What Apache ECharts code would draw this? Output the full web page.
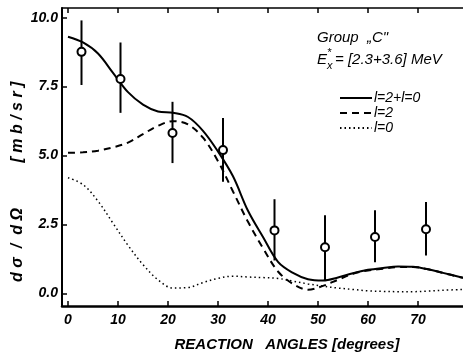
<!DOCTYPE html>
<html>
<head>
<meta charset="utf-8">
<script src="https://cdn.jsdelivr.net/npm/echarts@6/dist/echarts.min.js"></script>
<style>
  html, body { margin: 0; padding: 0; background: #fff; }
  #chart { width: 463px; height: 357px; }
</style>
</head>
<body>
<div id="chart"></div>
<script>
// experimental points (angle, value, error bar ends)
const expAngles = [2.7, 10.5, 20.9, 31.0, 41.3, 51.4, 61.4, 71.6];
const expValues = [8.76, 7.78, 5.82, 5.2, 2.29, 1.68, 2.05, 2.33];
const errLow = [7.56, 6.55, 4.73, 4.05, 1.2, 0.47, 1.14, 1.38];
const errHigh = [9.9, 9.1, 6.95, 6.36, 3.42, 2.84, 3.02, 3.32];

// calculated curves
const curveAngles = [0, 3, 6, 9, 12, 15, 18, 21, 24, 27, 30, 33, 36, 39, 42, 45, 48, 51, 54, 57, 60, 63, 66, 69, 72, 75, 79];
const sumCurve = [9.31, 9.1, 8.7, 8.0, 7.3, 6.85, 6.6, 6.55, 6.4, 5.9, 5.15, 4.25, 3.0, 2.05, 1.15, 0.75, 0.52, 0.47, 0.58, 0.74, 0.86, 0.93, 0.98, 0.97, 0.88, 0.75, 0.57];
const l2Curve = [5.1, 5.12, 5.18, 5.3, 5.47, 5.78, 6.08, 6.25, 6.13, 5.65, 4.8, 3.7, 2.6, 1.65, 0.8, 0.35, 0.14, 0.28, 0.5, 0.72, 0.84, 0.9, 0.96, 0.96, 0.88, 0.75, 0.57];
const l0Curve = [4.2, 3.95, 3.35, 2.55, 1.75, 1.05, 0.5, 0.2, 0.22, 0.4, 0.55, 0.63, 0.6, 0.58, 0.55, 0.45, 0.35, 0.27, 0.2, 0.15, 0.1, 0.08, 0.07, 0.07, 0.09, 0.12, 0.15];

const curveNames = ['l=2+l=0', 'l=2', 'l=0'];
const xTicks = [0, 10, 20, 30, 40, 50, 60, 70];
const yTicks = [0, 2.5, 5, 7.5, 10];

const font = 'Liberation Sans';
const pair = (ys) => curveAngles.map((a, i) => [a, ys[i]]);

const chart = echarts.init(document.getElementById('chart'));

const lineSeries = (name, ys, type, width) => ({
    name: name,
    type: 'line',
    data: pair(ys),
    smooth: 0.35,
    symbol: 'none',
    showSymbol: false,
    lineStyle: { color: '#000', width: width, type: type },
    itemStyle: { color: '#000' },
    z: 3
});

const option = {
    backgroundColor: '#fff',
    animation: false,
    grid: { left: 62, right: 0, top: 8, bottom: 51 },
    legend: {
        data: curveNames,
        orient: 'vertical',
        left: 334,
        top: 86,
        itemWidth: 32,
        itemHeight: 14,
        itemGap: 1,
        itemStyle: { opacity: 0 },
        textStyle: { fontFamily: font, fontStyle: 'italic', fontSize: 14, color: '#000', padding: [0, 0, 0, -3] }
    },
    xAxis: [
        {
            type: 'value',
            min: -1.2,
            max: 79,
            splitLine: { show: false },
            axisLine: { onZero: false, lineStyle: { color: '#000', width: 2.5 } },
            axisTick: { inside: true, length: 5, customValues: xTicks, lineStyle: { color: '#000', width: 1.5 } },
            axisLabel: {
                customValues: xTicks,
                margin: 7,
                fontFamily: font,
                fontStyle: 'italic',
                fontWeight: 'bold',
                fontSize: 14,
                color: '#000'
            }
        },
        {
            type: 'value',
            position: 'top',
            min: -1.2,
            max: 79,
            splitLine: { show: false },
            axisLine: { onZero: false, lineStyle: { color: '#000', width: 1.5 } },
            axisTick: { inside: true, length: 5, customValues: xTicks, lineStyle: { color: '#000', width: 1.5 } },
            axisLabel: { show: false }
        }
    ],
    yAxis: {
        type: 'value',
        min: -0.45,
        max: 10.35,
        splitLine: { show: false },
        axisLine: { show: true, onZero: false, lineStyle: { color: '#000', width: 2 } },
        axisTick: { show: true, inside: true, length: 5, customValues: yTicks, lineStyle: { color: '#000', width: 1.5 } },
        axisLabel: {
            customValues: yTicks,
            margin: 4,
            formatter: (v) => v.toFixed(1),
            fontFamily: font,
            fontStyle: 'italic',
            fontWeight: 'bold',
            fontSize: 14,
            color: '#000'
        }
    },
    graphic: [
        {
            type: 'text', x: 18, y: 245, rotation: Math.PI / 2,
            style: { text: 'd σ  /  d Ω', font: 'italic bold 16px "Liberation Sans"', fill: '#000', textAlign: 'center', textVerticalAlign: 'middle' }
        },
        {
            type: 'text', x: 18, y: 122, rotation: Math.PI / 2,
            style: { text: '[ m b / s r ]', font: 'italic bold 16px "Liberation Sans"', fill: '#000', textAlign: 'center', textVerticalAlign: 'middle' }
        },
        {
            type: 'text', x: 287, y: 345,
            style: { text: 'REACTION   ANGLES [degrees]', font: 'italic bold 15px "Liberation Sans"', fill: '#000', textAlign: 'center', textVerticalAlign: 'middle' }
        },
        {
            type: 'text', x: 317, y: 38,
            style: { text: 'Group  „C"', font: 'italic 15px "Liberation Sans"', fill: '#000', textVerticalAlign: 'middle' }
        },
        {
            type: 'text', x: 317, y: 60,
            style: { text: 'E', font: 'italic 15px "Liberation Sans"', fill: '#000', textVerticalAlign: 'middle' }
        },
        {
            type: 'text', x: 327, y: 53,
            style: { text: '*', font: 'italic 11px "Liberation Sans"', fill: '#000', textVerticalAlign: 'middle' }
        },
        {
            type: 'text', x: 327, y: 66,
            style: { text: 'x', font: 'italic 11px "Liberation Sans"', fill: '#000', textVerticalAlign: 'middle' }
        },
        {
            type: 'text', x: 335, y: 60,
            style: { text: '= [2.3+3.6] MeV', font: 'italic 15px "Liberation Sans"', fill: '#000', textVerticalAlign: 'middle' }
        }
    ],
    series: [
        lineSeries(curveNames[0], sumCurve, 'solid', 2),
        lineSeries(curveNames[1], l2Curve, [7, 5], 2),
        lineSeries(curveNames[2], l0Curve, [1.5, 3], 1.5),
        {
            name: 'errors',
            type: 'custom',
            data: expAngles.map((a, i) => [a, errLow[i], errHigh[i]]),
            encode: { x: 0, y: [1, 2] },
            renderItem: function (params, api) {
                const p1 = api.coord([api.value(0), api.value(1)]);
                const p2 = api.coord([api.value(0), api.value(2)]);
                return {
                    type: 'line',
                    shape: { x1: p1[0], y1: p1[1], x2: p2[0], y2: p2[1] },
                    style: { stroke: '#000', lineWidth: 2 }
                };
            },
            z: 4
        },
        {
            name: 'data',
            type: 'scatter',
            data: expAngles.map((a, i) => [a, expValues[i]]),
            symbol: 'circle',
            symbolSize: 8,
            itemStyle: { color: '#fff', borderColor: '#000', borderWidth: 2, opacity: 1 },
            z: 5
        }
    ]
};

chart.setOption(option);
</script>
</body>
</html>
